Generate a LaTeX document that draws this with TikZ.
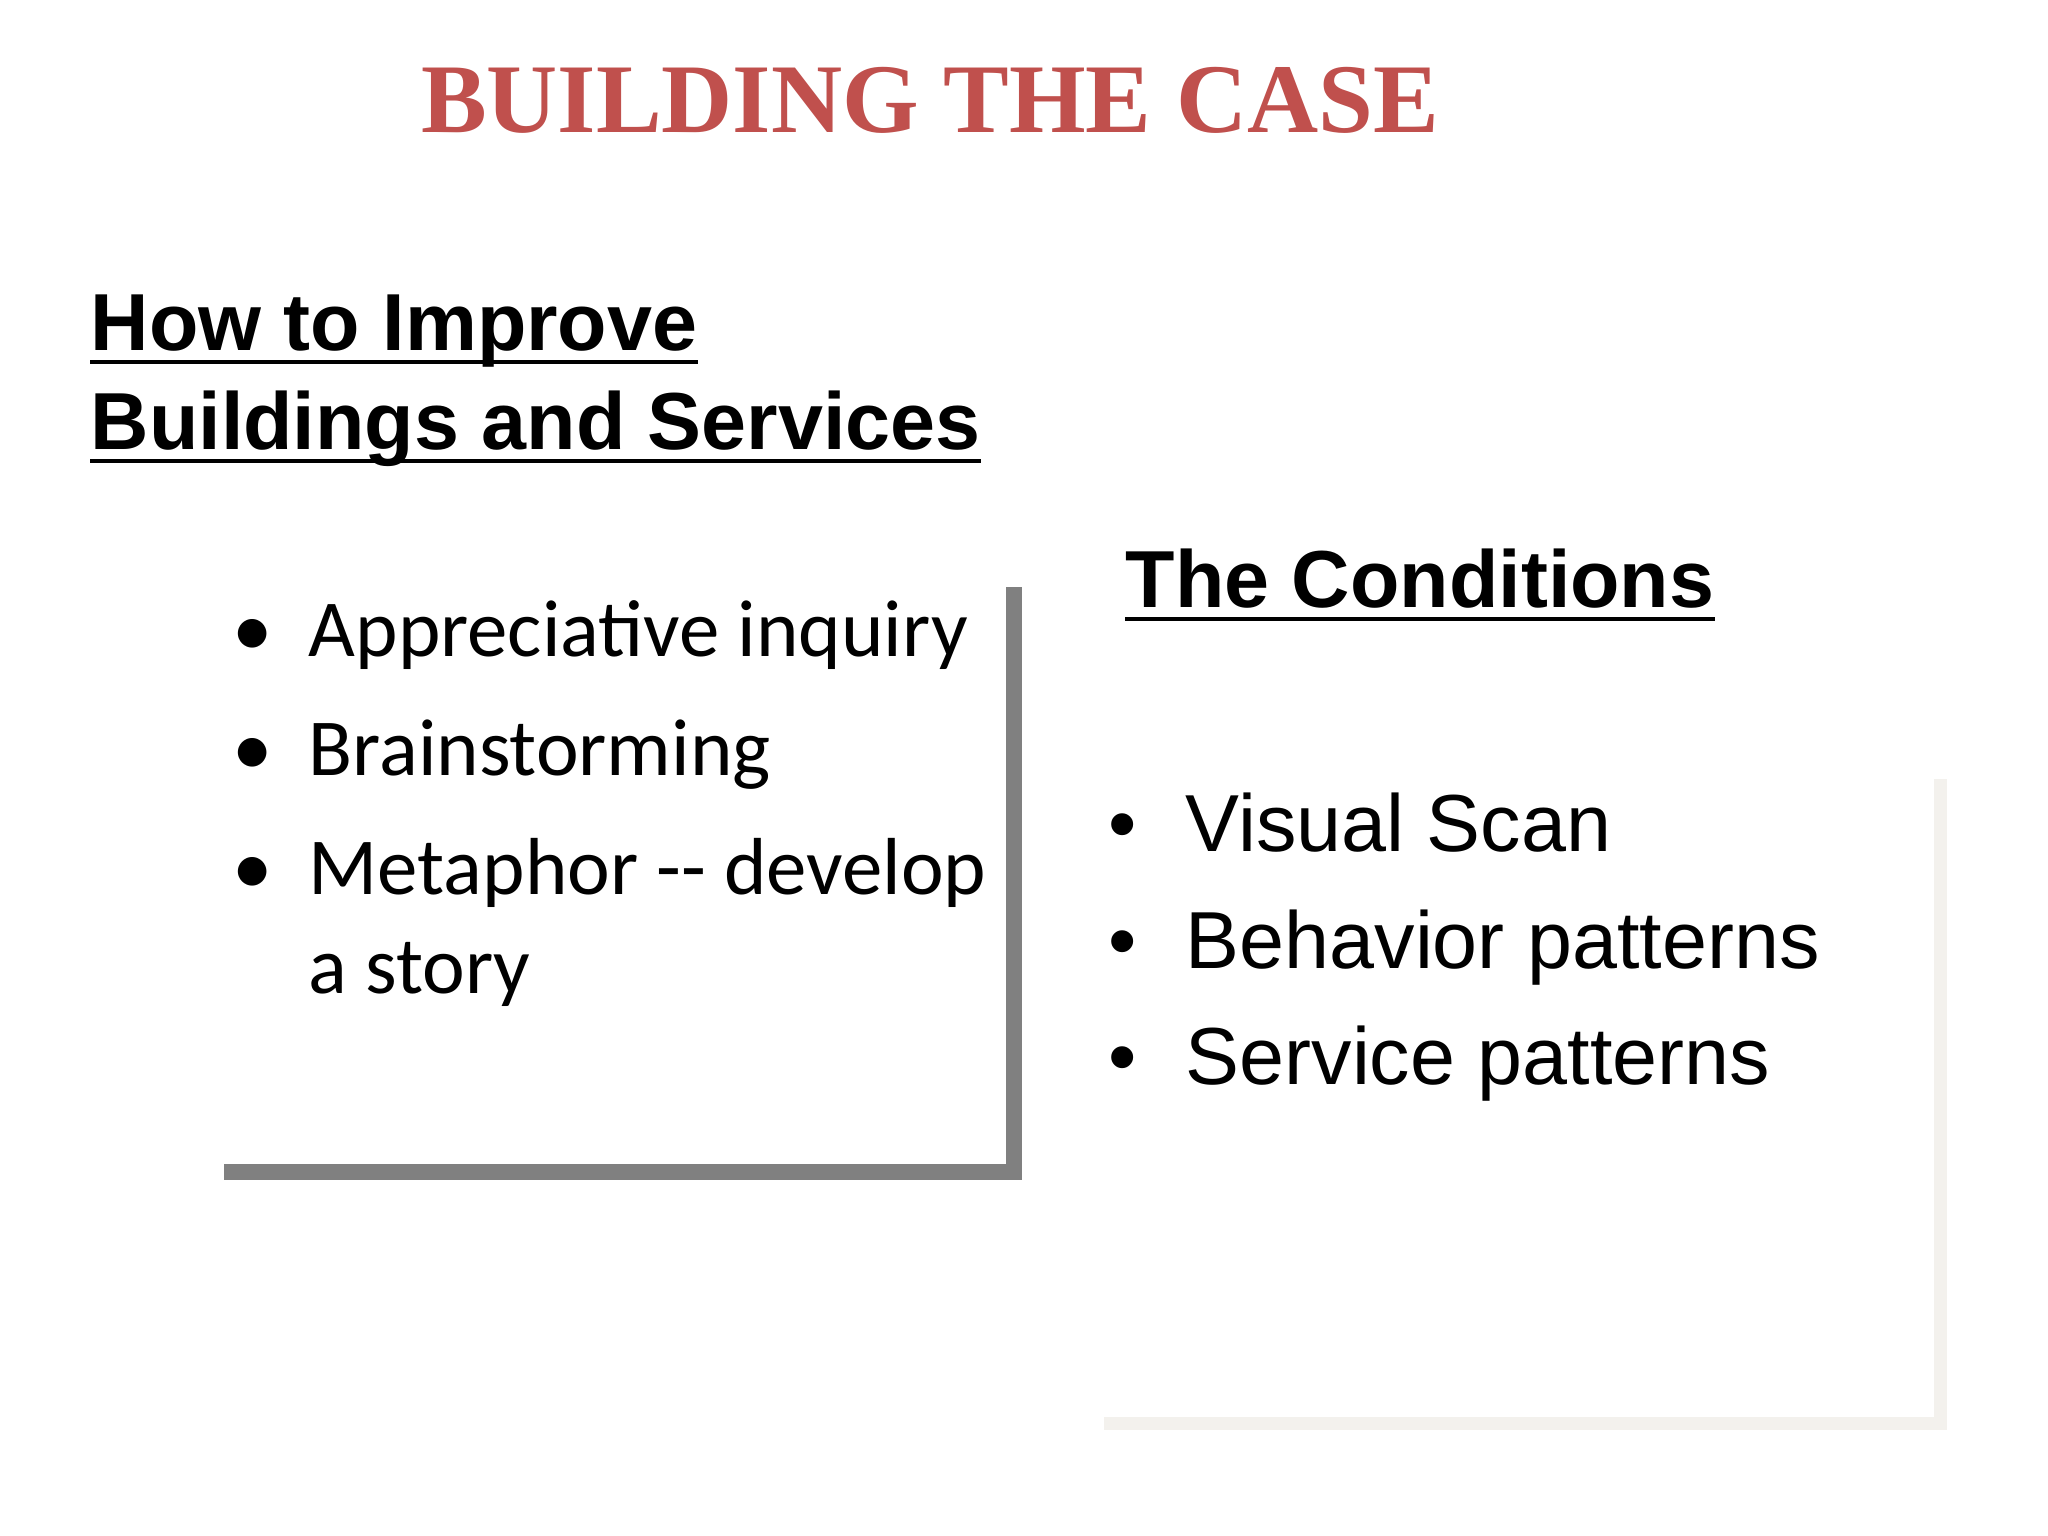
\documentclass[tikz,border=0pt]{standalone}
\usepackage{fontspec}
\setmainfont{Liberation Serif}
\newfontfamily\arialf{Liberation Sans}
\newfontfamily\calf{Carlito}
\definecolor{titlered}{RGB}{192,80,77}
\definecolor{lgray}{RGB}{243,241,237}
\tikzset{
 head/.style={anchor=base west,font=\arialf\bfseries\fontsize{23}{28}\selectfont,inner sep=0},
 litem/.style={anchor=base west,font=\calf\fontsize{23}{28}\selectfont,inner sep=0},
 ritem/.style={anchor=base west,font=\arialf\fontsize{23}{28}\selectfont,inner sep=0},
 uline/.style={line width=0.035cm,black},
}
\begin{document}
\begin{tikzpicture}[x=0.01cm,y=-0.01cm]
\useasboundingbox (0,0) rectangle (2048,1536);
\node[anchor=base,font=\bfseries\fontsize{28}{32}\selectfont,text=titlered,inner sep=0] (title) at (930,132) {BUILDING THE CASE};
\node[head] (h1) at (90,350) {How to Improve};
\node[head] (h2) at (90,449) {Buildings and Services};
\node[head] (h3) at (1125,607) {The Conditions};
\foreach \n in {h1,h2,h3}{
 \draw[uline] ([yshift=-0.12cm]\n.base west) -- ([yshift=-0.12cm]\n.base east);
}
\foreach \y/\t [count=\i] in {656/Appreciative inquiry,775/Brainstorming,894/Metaphor -- develop}{
 \node[litem] (lb\i) at (232,\y) {•};
 \node[litem] (l\i) at (308,\y) {\t};
}
\node[litem] (l4) at (308,993) {a story};
\foreach \y/\t [count=\i] in {851/Visual Scan,968/Behavior patterns,1084/Service patterns}{
 \node[ritem] (rb\i) at (1108,\y) {•};
 \node[ritem] (r\i) at (1185,\y) {\t};
}
\draw[line width=0.16cm,color=gray] (1014,587) -- (1014,1172) -- (224,1172);
\draw[line width=0.13cm,color=lgray] (1940,779) -- (1940,1423) -- (1104,1423);
\end{tikzpicture}
\end{document}
